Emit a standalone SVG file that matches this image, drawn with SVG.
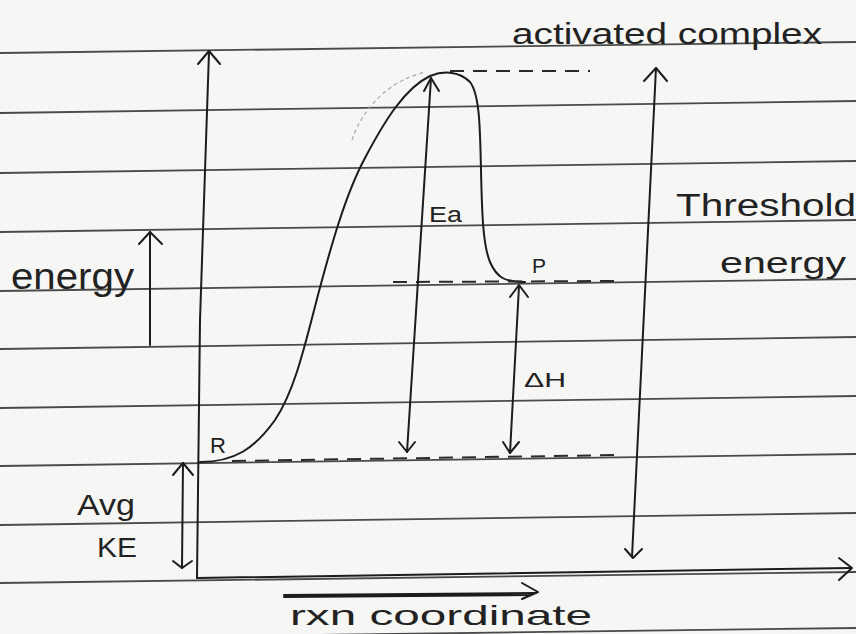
<svg xmlns="http://www.w3.org/2000/svg" width="856" height="634" viewBox="0 0 856 634">
<defs>
<style>
.rule{stroke:#4a4a4a;stroke-width:1.8;fill:none}
.ink{stroke:#1c1c1c;stroke-width:2;fill:none;stroke-linecap:round;stroke-linejoin:round}
.dash{stroke:#2a2a2a;stroke-width:2;fill:none;stroke-dasharray:14 9}
.faint{stroke:#a8a8a8;stroke-width:1.2;fill:none;stroke-dasharray:4 3}
.t{font-family:"Liberation Sans","DejaVu Sans",sans-serif;fill:#222}
</style>
</defs>
<rect width="856" height="634" fill="#f6f6f4"/>
<g id="paper">
<line class="rule" x1="0" y1="53" x2="856" y2="42"/>
<line class="rule" x1="0" y1="113" x2="856" y2="101"/>
<line class="rule" x1="0" y1="173" x2="856" y2="161"/>
<line class="rule" x1="0" y1="232" x2="856" y2="220"/>
<line class="rule" x1="0" y1="291" x2="856" y2="279"/>
<line class="rule" x1="0" y1="349" x2="856" y2="337"/>
<line class="rule" x1="0" y1="408" x2="856" y2="396"/>
<line class="rule" x1="0" y1="466" x2="856" y2="454"/>
<line class="rule" x1="0" y1="525" x2="856" y2="513"/>
<line class="rule" x1="0" y1="583" x2="856" y2="572"/>
<line class="rule" x1="0" y1="639" x2="856" y2="628"/>
</g>
<g id="connectors">
<polyline class="ink" points="197,578 200,320 209,52"/>
<polyline class="ink" points="198,64 209,51 220,64"/>
<line class="ink" x1="197" y1="578" x2="851" y2="568" stroke-width="2.6"/>
<polyline class="ink" points="839,558 852,568 839,580"/>
<path class="ink" d="M284,595 L536,593 M284,597 L530,595" stroke-width="2.2"/>
<polyline class="ink" points="522,583 538,592 522,599"/>
<path class="faint" d="M352,140 C362,110 388,80 426,72"/>
<path class="ink" d="M200,462 C235,462 255,448 275,420 C295,390 305,345 318,295 C330,250 345,195 365,158 C385,120 405,88 430,76 C445,70 460,72 470,82 C480,95 480,130 481,170 C482,215 483,245 490,262 C497,278 505,282 525,282"/>
<line class="dash" x1="450" y1="71" x2="590" y2="71"/>
<line class="dash" x1="393" y1="282" x2="617" y2="281"/>
<line class="dash" x1="232" y1="461" x2="620" y2="455"/>
<line class="ink" x1="431" y1="78" x2="407" y2="452"/>
<polyline class="ink" points="424,91 431,78 439,91"/>
<polyline class="ink" points="399,442 407,452 415,442"/>
<line class="ink" x1="519" y1="286" x2="510" y2="453"/>
<polyline class="ink" points="510,297 519,285 528,297"/>
<polyline class="ink" points="503,442 510,453 519,442"/>
<line class="ink" x1="656" y1="68" x2="632" y2="557"/>
<polyline class="ink" points="644,81 656,68 667,81"/>
<polyline class="ink" points="625,549 633,558 642,549"/>
<line class="ink" x1="183" y1="463" x2="182" y2="568"/>
<polyline class="ink" points="173,475 183,463 193,475"/>
<polyline class="ink" points="173,561 182,568 192,561"/>
<line class="ink" x1="150" y1="345" x2="150" y2="232"/>
<polyline class="ink" points="139,244 150,232 162,244"/>
</g>
<g id="label-activated-complex"><text class="t" x="512" y="44" font-size="30" textLength="310" lengthAdjust="spacingAndGlyphs">activated complex</text></g>
<g id="label-threshold"><text class="t" x="676" y="216" font-size="31" textLength="180" lengthAdjust="spacingAndGlyphs">Threshold</text>
<text class="t" x="720" y="273" font-size="30" textLength="126" lengthAdjust="spacingAndGlyphs">energy</text></g>
<g id="label-energy"><text class="t" x="11" y="289" font-size="36" textLength="123" lengthAdjust="spacingAndGlyphs">energy</text></g>
<g id="label-ea"><text class="t" x="429" y="222" font-size="22" textLength="33" lengthAdjust="spacingAndGlyphs">Ea</text></g>
<g id="label-p"><text class="t" x="532" y="273" font-size="21">P</text></g>
<g id="label-dh"><text class="t" x="524" y="387" font-size="20" textLength="42" lengthAdjust="spacingAndGlyphs">ΔH</text></g>
<g id="label-r"><text class="t" x="210" y="453" font-size="22">R</text></g>
<g id="label-avgke"><text class="t" x="77" y="515" font-size="30" textLength="58" lengthAdjust="spacingAndGlyphs">Avg</text>
<text class="t" x="97" y="557" font-size="28" textLength="40" lengthAdjust="spacingAndGlyphs">KE</text></g>
<g id="label-rxn"><text class="t" x="290" y="625" font-size="28" textLength="302" lengthAdjust="spacingAndGlyphs">rxn coordinate</text></g>
</svg>
